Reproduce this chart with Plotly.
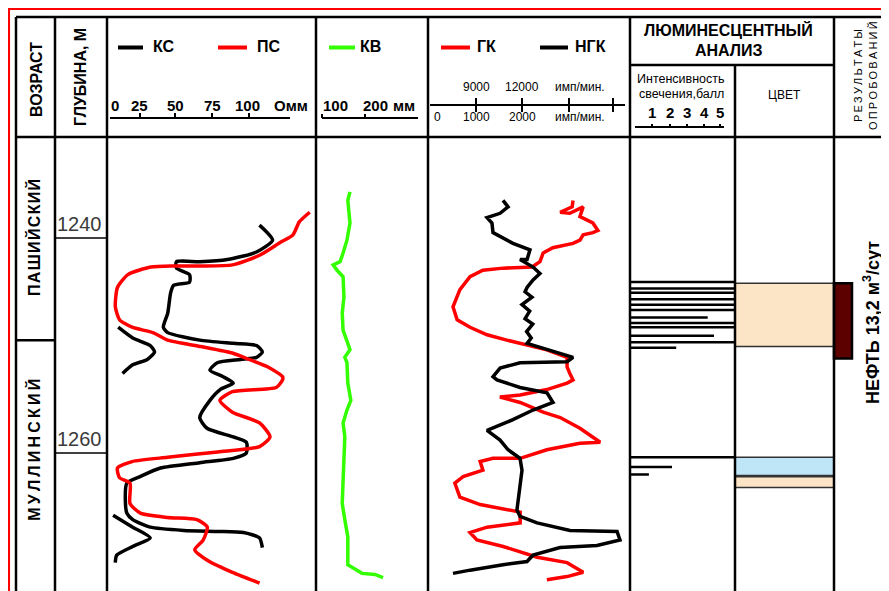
import plotly.graph_objects as go

# ------------------------------------------------------------------ data
# КС (apparent resistivity, Ohm*m) main branch
KC_DEPTH = [1238.8, 1240.2, 1241.3, 1242.0, 1242.2, 1242.2, 1242.8, 1243.4, 1244.1, 1244.4,
            1245.1, 1247.0, 1248.3, 1248.8, 1249.5, 1249.8, 1250.0, 1250.6, 1251.1, 1251.3,
            1251.6, 1252.3, 1252.9, 1253.5, 1254.1, 1255.1, 1256.7, 1257.7, 1258.5, 1259.0,
            1260.0, 1260.5, 1260.9, 1261.4, 1262.2, 1262.8, 1264.7, 1265.6, 1266.2, 1266.9,
            1267.2, 1267.3, 1267.4, 1267.9, 1268.8]
KC_VALUE = [107, 116, 105, 85, 66, 50, 50, 59, 59, 48,
            46, 44, 41, 44, 66, 89, 105, 109, 105, 94,
            78, 73, 82, 89, 80, 73, 66, 71, 89, 98,
            98, 89, 66, 39, 25, 16, 15, 16, 20, 32,
            55, 78, 96, 107, 109]
# КС wrapped (second) branches
KC_WRAP_DEPTH = [1248.3, 1249.3, 1250.0, 1250.6, 1251.3, 1251.8, 1252.6, None,
                 1265.8, 1266.9, 1267.9, 1268.7, 1269.5, 1270.2]
KC_WRAP_VALUE = [10, 20, 32, 35, 30, 20, 13, None,
                 6.5, 20, 32, 20, 9, 8]
# ПС (relative units)
PS_DEPTH = [1237.6, 1238.5, 1239.7, 1240.4, 1241.6, 1242.5, 1242.6, 1242.6, 1242.7, 1243.4,
            1244.6, 1246.4, 1247.6, 1248.3, 1248.8, 1249.5, 1250.1, 1250.7, 1251.3, 1252.0,
            1252.9, 1253.2, 1253.9, 1254.3, 1255.1, 1256.2, 1257.2, 1258.5, 1259.4, 1259.9,
            1260.4, 1260.8, 1261.4, 1262.3, 1262.8, 1264.7, 1265.6, 1266.0, 1266.2, 1266.9,
            1268.1, 1269.0, 1270.1, 1271.1, 1272.1]
PS_VALUE = [97, 92, 89, 83, 73, 60, 45, 32, 21, 10,
            5, 4, 6, 12, 22, 29, 45, 60, 68, 77,
            84, 84, 81, 60, 54, 60, 73, 78, 73, 53,
            29, 12, 5, 6, 11, 11, 16, 29, 43, 48,
            46, 42, 49, 60, 73]
# КВ caliper, mm
KV_DEPTH = [1235.7, 1236.5, 1238.6, 1240.2, 1241.4, 1242.2, 1242.5, 1243.0, 1243.6, 1245.5,
            1247.0, 1248.6, 1249.8, 1250.4, 1251.1, 1251.6, 1253.5, 1255.1, 1256.0, 1257.2,
            1258.5, 1261.6, 1264.7, 1266.2, 1267.8, 1269.7, 1270.4, 1271.2, 1271.3, 1271.6]
KV_VALUE = [165, 160, 165, 158, 149, 142, 126, 135, 149, 151,
            147, 149, 160, 165, 153, 158, 160, 167, 158, 149,
            153, 149, 147, 153, 160, 160, 160, 193, 223, 242]
# ГК, imp/min
GK_DEPTH = [1236.5, 1237.1, 1237.6, 1237.7, 1237.1, 1238.0, 1238.6, 1239.3, 1239.5, 1239.7,
            1240.2, 1240.5, 1240.9, 1241.4, 1242.2, 1242.7, 1242.8, 1243.0, 1243.6, 1244.8,
            1246.4, 1247.6, 1248.3, 1249.0, 1249.5, 1249.8, 1250.4, 1251.1, 1252.0, 1252.6,
            1253.2, 1253.5, 1254.1, 1254.6, 1254.8, 1255.3, 1256.2, 1256.7, 1257.7, 1259.0,
            1259.1, 1259.7, 1260.5, 1260.5, 1260.8, 1261.6, 1262.2, 1262.8, 1264.1, 1264.8,
            1265.5, 1266.5, 1266.9, 1267.4, 1268.1, 1268.7, 1269.7, 1270.2, 1271.1, 1271.5,
            1271.8]
GK_VALUE = [3110, 3090, 2830, 3040, 3330, 3260, 3540, 3650, 3540, 3330,
            3260, 3110, 2670, 2460, 2390, 2220, 1590, 1150, 870, 650,
            500, 590, 870, 1240, 1670, 1960, 2540, 2980, 2980, 3040,
            3110, 2980, 2540, 1960, 1520, 1960, 2460, 2830, 3260, 3700,
            3260, 2540, 1960, 1370, 1090, 1150, 720, 540, 650, 1090,
            1960, 1960, 1240, 870, 1020, 1590, 2330, 2980, 3330, 2980,
            2540]
# НГК, imp/min
NGK_DEPTH = [1236.5, 1237.1, 1237.7, 1238.1, 1238.6, 1239.5, 1240.5, 1241.1, 1242.0, 1242.0,
             1242.7, 1243.3, 1243.9, 1244.6, 1245.0, 1245.5, 1246.2, 1246.8, 1247.5, 1248.0,
             1248.7, 1249.3, 1249.8, 1250.4, 1251.1,
             1251.5, 1251.6, 1252.1, 1252.9, 1253.2, 1253.9, 1254.4, 1255.3, 1256.0, 1256.9,
             1257.9, 1258.8, 1259.7, 1260.5, 1261.6, 1264.1, 1265.3, 1265.9, 1266.5, 1267.2,
             1267.3, 1268.1, 1268.6, 1268.8, 1269.5, 1270.1, 1270.4, 1270.9, 1271.2]
NGK_VALUE = [10760, 11090, 10570, 9720, 10040, 10110, 11410, 12520, 12330, 11870,
             12720, 13170, 12720, 12330, 12200, 12650, 12000, 12500, 12200, 12700,
             12300, 12600, 12330, 13630, 15330,
             14940, 11870, 10570, 10110, 10370, 11870, 13630, 14020, 12720, 11410,
             9720, 10570, 11090, 11870, 12000, 11740, 11670, 11870, 12980, 15130,
             18200, 18390, 16890, 14480, 12720, 12330, 10760, 8610, 7500]
# luminescence intensity, points
LUM_DEPTH = [1244.1, 1244.7, 1245.1, 1245.7, 1246.2, 1246.7, 1247.4, 1247.9, 1248.3,
             1249.1, 1249.7, 1250.2, 1260.4, 1261.3, 1262.0]
LUM_INT = [5, 5, 5, 5, 5, 5, 3.7, 5, 5, 4.0, 5, 2.2, 5, 2.0, 0.9]
# luminescence colour intervals
COLOR_TOP = [1244.2, 1260.4, 1262.2]
COLOR_BOT = [1250.1, 1262.1, 1263.2]
COLOR_FILL = ["#FCE4C6", "#BEE6F7", "#FCE4C6"]
# test results
TEST_TOP = [1244.2]
TEST_BOT = [1251.2]
TEST_LABEL = ["НЕФТЬ 13,2 м<sup>3</sup>/сут"]
TEST_LABEL_DEPTH = [1247.9]
# stratigraphy and depth scale
AGE_NAMES = ["ПАШИЙСКИЙ", "МУЛЛИНСКИЙ"]
AGE_LABEL_DEPTH = [1240.0, 1259.7]
AGE_BOUNDARY = [1249.5]
DEPTH_TICKS = [1240, 1260]
# header scales
KC_TICKS = ["0", "25", "50", "75", "100", "Омм"]
KV_TICKS = ["100", "200", "мм"]
NGK_TICKS = ["9000", "12000", "имп/мин."]
GK_TICKS = ["0", "1000", "2000", "имп/мин."]
LUM_TICKS = ["1", "2", "3", "4", "5"]

# ------------------------------------------------------------------ layout helpers
OFF = 8                      # page margin of the html body
W, H = 889 - OFF, 591 - OFF  # figure size so that it fills the window
FONT = "Liberation Sans, Arial, sans-serif"
THIN = "\u2009"
HAIR = "\u200a"


def spaced(s, sep=THIN):
    return sep.join(list(s))


def X(px):
    return (px - OFF) / W


def Y(py):
    return 1 - (py - OFF) / H


shapes = []
annotations = []


def hline(x0, x1, py, color="black", width=2.5):
    shapes.append(dict(type="line", xref="paper", yref="paper", x0=X(x0), x1=X(x1),
                       y0=Y(py), y1=Y(py), line=dict(color=color, width=width)))


def vline(px, y0, y1, color="black", width=2.5):
    shapes.append(dict(type="line", xref="paper", yref="paper", x0=X(px), x1=X(px),
                       y0=Y(y0), y1=Y(y1), line=dict(color=color, width=width)))


def text(px, py, s, size=12, bold=False, angle=0, xanchor="center", color="black",
         family=FONT):
    annotations.append(dict(xref="paper", yref="paper", x=X(px), y=Y(py),
                            text=("<b>%s</b>" % s) if bold else s, showarrow=False,
                            textangle=angle, xanchor=xanchor, yanchor="middle",
                            font=dict(size=size, color=color, family=family)))


# ------------------------------------------------------------------ figure
fig = go.Figure()

fig.add_trace(go.Scatter(x=PS_VALUE, y=PS_DEPTH, xaxis="x2", yaxis="y", mode="lines",
                         line=dict(color="#FF0000", width=3.5, shape="spline", smoothing=0.6)))
fig.add_trace(go.Scatter(x=KC_VALUE, y=KC_DEPTH, xaxis="x", yaxis="y", mode="lines",
                         line=dict(color="black", width=3.5, shape="spline", smoothing=0.6)))
fig.add_trace(go.Scatter(x=KC_WRAP_VALUE, y=KC_WRAP_DEPTH, xaxis="x", yaxis="y", mode="lines",
                         connectgaps=False,
                         line=dict(color="black", width=3.5, shape="spline", smoothing=0.6)))
fig.add_trace(go.Scatter(x=KV_VALUE, y=KV_DEPTH, xaxis="x3", yaxis="y", mode="lines",
                         line=dict(color="#33FF00", width=3.5)))
fig.add_trace(go.Scatter(x=GK_VALUE, y=GK_DEPTH, xaxis="x4", yaxis="y", mode="lines",
                         line=dict(color="#FF0000", width=3.5)))
fig.add_trace(go.Scatter(x=NGK_VALUE, y=NGK_DEPTH, xaxis="x5", yaxis="y", mode="lines",
                         line=dict(color="black", width=3.5)))
lx, ly = [], []
for d, v in zip(LUM_DEPTH, LUM_INT):
    lx += [0, v, None]
    ly += [d, d, None]
fig.add_trace(go.Scatter(x=lx, y=ly, xaxis="x6", yaxis="y", mode="lines",
                         line=dict(color="black", width=2.5)))

# colour intervals (ЦВЕТ)
for t, b, c in zip(COLOR_TOP, COLOR_BOT, COLOR_FILL):
    shapes.append(dict(type="rect", xref="paper", yref="y", x0=X(735), x1=X(834), y0=t, y1=b,
                       fillcolor=c, line=dict(color="#333333", width=1.5), layer="above"))
# test interval
for t, b in zip(TEST_TOP, TEST_BOT):
    shapes.append(dict(type="rect", xref="paper", yref="y", x0=X(834), x1=X(852), y0=t, y1=b,
                       fillcolor="#5C0000", line=dict(color="black", width=2.5)))
for s, d in zip(TEST_LABEL, TEST_LABEL_DEPTH):
    annotations.append(dict(xref="paper", yref="y", x=X(872), y=d, text="<b>%s</b>" % s,
                            showarrow=False, textangle=-90, xanchor="center", yanchor="middle",
                            font=dict(size=18, family=FONT, color="black")))

# depth ticks and stratigraphy
for d in DEPTH_TICKS:
    shapes.append(dict(type="line", xref="paper", yref="y", x0=X(55), x1=X(107), y0=d, y1=d,
                       line=dict(color="black", width=1.5)))
    annotations.append(dict(xref="paper", yref="y", x=X(104), y=d, text=str(d),
                            showarrow=False, xanchor="right", yanchor="bottom", yshift=1,
                            font=dict(size=20, family=FONT, color="#3a3a3a")))
for d in AGE_BOUNDARY:
    shapes.append(dict(type="line", xref="paper", yref="y", x0=X(16), x1=X(55), y0=d, y1=d,
                       line=dict(color="black", width=2.5)))
age_sep = [HAIR, THIN]
for i, (s, d) in enumerate(zip(AGE_NAMES, AGE_LABEL_DEPTH)):
    annotations.append(dict(xref="paper", yref="y", x=X(34), y=d,
                            text="<b>%s</b>" % spaced(s, age_sep[i % 2]),
                            showarrow=False, textangle=-90, xanchor="center", yanchor="middle",
                            font=dict(size=16, family=FONT, color="black")))

# frame
hline(8, 900, 8.8, color="#FF0000", width=2.5)
vline(8.8, 8, 600, color="#FF0000", width=2.5)
hline(16, 900, 17)
vline(16, 17, 600)
for px in [55, 107, 316, 428, 630, 834]:
    vline(px, 17, 600)
vline(735, 65, 600)
hline(16, 900, 137)
hline(630, 834, 65)

# headers
text(36, 80, "ВОЗРАСТ", 16, True, -90)
text(81, 77, "ГЛУБИНА, М", 16, True, -90)
# KC / PS legend
hline(118, 143, 47.5, width=4)
text(164, 47, "КС", 16, True)
hline(218, 247, 47.5, color="#FF0000", width=4)
text(269, 47, "ПС", 16, True)
for s, px in zip(KC_TICKS, [115, 139, 175, 212, 247, 291]):
    text(px, 105, s, 15, True)
hline(110, 290, 118, width=2)
for px in [140, 175, 212, 249]:
    vline(px, 113, 118, width=2)
# KV
hline(329, 355, 47.5, color="#33FF00", width=4)
text(370, 47, "КВ", 16, True)
for s, px in zip(KV_TICKS, [335, 375, 404]):
    text(px, 105, s, 15, True)
hline(322, 418, 118, width=2)
for px in [322, 365]:
    vline(px, 114, 118, width=2)
# GK / NGK
hline(441, 470, 47.5, color="#FF0000", width=4)
text(487, 47, "ГК", 16, True)
hline(540, 568, 47.5, width=4)
text(590, 47, "НГК", 16, True)
for s, px in zip(NGK_TICKS, [476, 522, 580]):
    text(px, 87, s, 12)
for s, px in zip(GK_TICKS, [437, 476, 522, 580]):
    text(px, 117, s, 12)
hline(430, 625, 105, width=2)
for px in [476, 522, 569, 613]:
    vline(px, 98, 112, width=2)
# luminescence
text(728, 30, "ЛЮМИНЕСЦЕНТНЫЙ", 16, True)
text(729, 50, "АНАЛИЗ", 16, True)
text(681, 79, "Интенсивность", 12.5)
text(681, 94, "свечения,балл", 12.5)
for s, px in zip(LUM_TICKS, [652, 670, 687, 704, 720]):
    text(px, 112, s, 15, True)
hline(635, 724, 127, width=2)
for px in [652, 670, 687, 704, 720]:
    vline(px, 124, 127, width=2)
text(784, 95, "ЦВЕТ", 12)
text(858, 76, spaced("РЕЗУЛЬТАТЫ"), 11, False, -90)
text(873, 76, spaced("ОПРОБОВАНИЙ"), 11, False, -90)

# ------------------------------------------------------------------ axes
D_TOP = 1230.6
D_BOT = 1272.84
hidden = dict(visible=False, showgrid=False, zeroline=False, fixedrange=True)
fig.update_layout(
    width=W, height=H, autosize=False,
    margin=dict(l=0, r=0, t=0, b=0, pad=0),
    paper_bgcolor="white", plot_bgcolor="rgba(0,0,0,0)",
    showlegend=False,
    xaxis=dict(domain=[X(107), X(316)], range=[2.33, 145.8], anchor="y", **hidden),
    xaxis2=dict(domain=[X(107), X(316)], range=[0, 100], anchor="y", overlaying="x", **hidden),
    xaxis3=dict(domain=[X(316), X(428)], range=[86.0, 346.5], anchor="y", **hidden),
    xaxis4=dict(domain=[X(428), X(630)], range=[-43.5, 4348], anchor="y", **hidden),
    xaxis5=dict(domain=[X(428), X(630)], range=[5870, 19043], anchor="y", overlaying="x4",
                **hidden),
    xaxis6=dict(domain=[X(630), X(735)], range=[0, 5], anchor="y", **hidden),
    yaxis=dict(domain=[0, Y(137)], range=[D_BOT, D_TOP], anchor="free", position=0, **hidden),
    shapes=shapes,
    annotations=annotations,
)

fig.write_html("out.html")
